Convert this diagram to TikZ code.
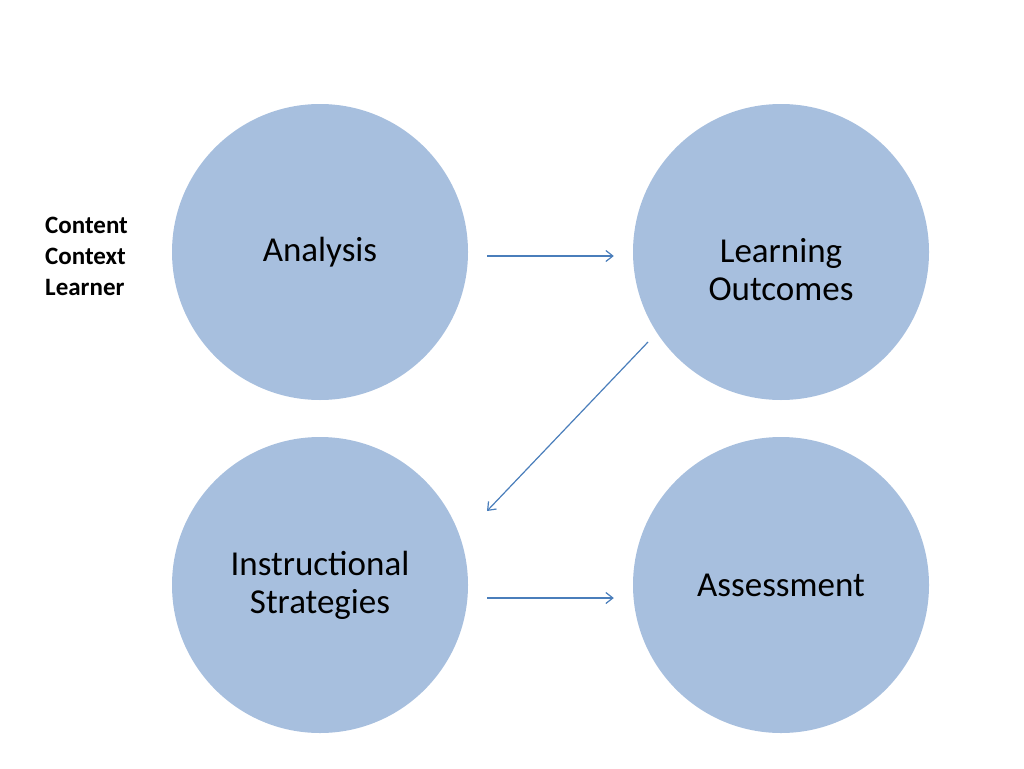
\documentclass[tikz,border=0pt]{standalone}
\usepackage{fontspec}
\setmainfont{Carlito}
\usetikzlibrary{arrows.meta}
\definecolor{discfill}{RGB}{167,191,222}
\definecolor{flowblue}{RGB}{74,126,187}
\begin{document}
\begin{tikzpicture}[x=1pt, y=-1pt,
    disc/.style={circle, fill=discfill, minimum size=296pt, inner sep=0pt, align=center,
                 font=\fontsize{35}{38}\selectfont},
    flow/.style={draw=flowblue, line width=1.2pt, -{Straight Barb[length=7pt,width=11pt]}},
    side/.style={align=left, anchor=north west, inner sep=0pt, font=\fontsize{25}{31}\selectfont\bfseries},
]
  \useasboundingbox (0,0) rectangle (1024,768);
  \node [disc]  (ana) at (320,252)  {Analysis};
  \node [disc]  (lo)  at (781,252)  {\raisebox{-28pt}[0pt][0pt]{\begin{tabular}{@{}c@{}}Learning\\Outcomes\end{tabular}}};
  \node [disc]  (is)  at (320,585)  {Instructional\\Strategies};
  \node [disc]  (as)  at (781,585)  {Assessment};
  \node [side]  (ccl) at (45,217)   {Content\\Context\\Learner};
  % connectors
  \draw [flow] ([shift={(19,4)}]ana.east)     -- ([shift={(-19,4)}]lo.west);
  \draw [flow] ([shift={(-133,90)}]lo.center) -- ([shift={(167,-74)}]is.center);
  \draw [flow] ([shift={(19,13)}]is.east)     -- ([shift={(-19,13)}]as.west);
\end{tikzpicture}
\end{document}
